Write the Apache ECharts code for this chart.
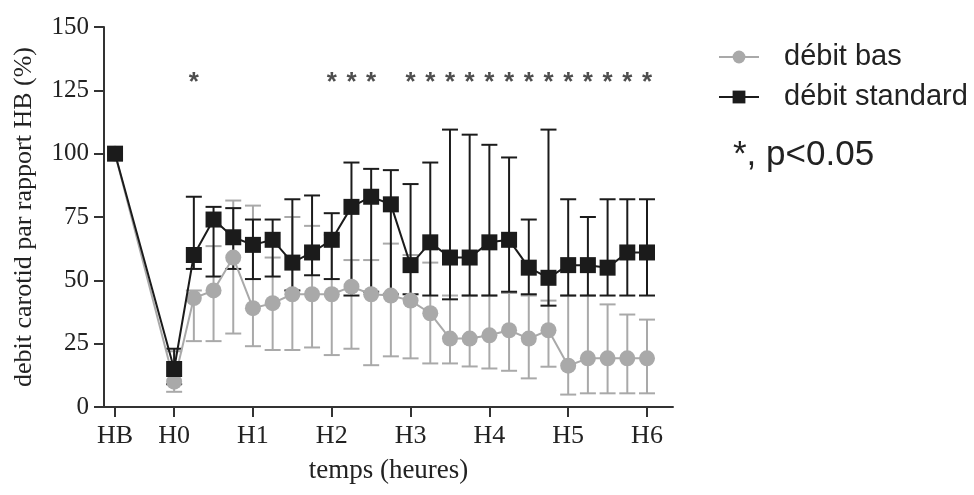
<!DOCTYPE html>
<html>
<head>
<meta charset="utf-8">
<script src="https://cdn.jsdelivr.net/npm/echarts@6/dist/echarts.min.js"></script>
<style>html,body{margin:0;padding:0;background:#fff;}#c{width:974px;height:495px;}</style>
</head>
<body>
<div id="c"></div>
<script>
// time in hours (HB = baseline, placed before H0)
const times = [-0.75,0,0.25,0.5,0.75,1,1.25,1.5,1.75,2,2.25,2.5,2.75,3,3.25,3.5,3.75,4,4.25,4.5,4.75,5,5.25,5.5,5.75,6];
// débit standard
const stdMean = [100,15,60,74,67,64,66,57,61,66,79,83,80,56,65,59,59,65,66,55,51,56,56,55,61,61];
const stdHigh = [null,23,83,79,78.5,74,74,82,83.5,76.5,96.5,94,93.5,88,96.5,109.5,107.5,103.5,98.5,74,109.5,82,75,82,82,82];
const stdLow  = [null,9,54.5,51.5,54.5,50.5,51.5,46,52,50.5,44,45.5,44.5,44.5,44,42.5,44,44,45.5,44.5,40,44,44,44,44,44];
// débit bas
const lowMean = [100,10,43,46,59,39,41,44.5,44.5,44.5,47.5,44.5,44,42,37,27,27,28.3,30.3,27,30.3,16.3,19.2,19.2,19.2,19.2];
const lowHigh = [null,22,46,63.5,81.5,79.5,59,75,71.5,68,58,58,64.5,60,57,44,44,44,45,44,42,44,44,40.5,36.5,34.5];
const lowLow  = [null,6,26,26,29,24,22.5,22.5,23.5,20.5,23,16.5,20,19.2,17.2,17.2,16,15.2,14.3,11.3,15.9,4.9,5.4,5.4,5.4,5.4];
// significance markers (p<0.05)
const sigTimes = [0.25,2,2.25,2.5,3,3.25,3.5,3.75,4,4.25,4.5,4.75,5,5.25,5.5,5.75,6];
const sigLevel = 128;
// x tick labels
const tickValues = [-0.75,0,1,2,3,4,5,6];
const tickLabels = ['HB','H0','H1','H2','H3','H4','H5','H6'];
const yTicks = [0,25,50,75,100,125,150];

const GREY = '#a9a9a9';
const BLACK = '#1b1b1b';
const SERIF = '"Liberation Serif", "DejaVu Serif", serif';
const SANS = '"Liberation Sans", Arial, sans-serif';

function pairs(vals){ return times.map((t,i)=>[t, vals[i]]); }
function errData(lo, hi){
  const out = [];
  times.forEach((t,i)=>{ if(lo[i]!=null && hi[i]!=null) out.push([t, lo[i], hi[i]]); });
  return out;
}
function errSeries(name, lo, hi, color, z){
  return {
    type: 'custom', name: name + '_err', z: z, silent: true,
    data: errData(lo, hi),
    encode: {x: 0, y: [1, 2]},
    renderItem: function(params, api){
      const x = api.value(0);
      const p1 = api.coord([x, api.value(1)]);
      const p2 = api.coord([x, api.value(2)]);
      const hw = 8;
      const st = {stroke: color, lineWidth: 2};
      return {type: 'group', children: [
        {type:'line', shape:{x1:p1[0],y1:p1[1],x2:p2[0],y2:p2[1]}, style: st},
        {type:'line', shape:{x1:p1[0]-hw,y1:p1[1],x2:p1[0]+hw,y2:p1[1]}, style: st},
        {type:'line', shape:{x1:p2[0]-hw,y1:p2[1],x2:p2[0]+hw,y2:p2[1]}, style: st}
      ]};
    }
  };
}

const chart = echarts.init(document.getElementById('c'), null, {renderer: 'canvas'});
chart.setOption({
  animation: false,
  backgroundColor: '#fff',
  grid: {left: 104, right: 301, top: 27, bottom: 88, containLabel: false},
  legend: {
    orient: 'vertical', left: 713, top: 37,
    itemWidth: 40, itemHeight: 16, itemGap: 10,
    data: ['débit bas', 'débit standard'],
    textStyle: {fontFamily: SANS, fontSize: 29, color: '#222', padding: [0,0,0,20], lineHeight: 30}
  },
  xAxis: {
    type: 'value', min: -0.89, max: 6.33,
    name: 'temps (heures)', nameLocation: 'middle', nameGap: 50,
    nameTextStyle: {fontFamily: SERIF, fontSize: 27, color: '#222'},
    axisLine: {show: true, onZero: false, lineStyle: {color: '#333', width: 2}},
    axisTick: {show: true, length: 10, inside: false, customValues: tickValues, lineStyle: {color: '#333', width: 2}},
    axisLabel: {
      customValues: tickValues, margin: 16,
      fontFamily: SERIF, fontSize: 26, color: '#222',
      formatter: function(v){ const i = tickValues.findIndex(t=>Math.abs(t-v)<1e-6); return i>=0 ? tickLabels[i] : ''; }
    },
    splitLine: {show: false}
  },
  yAxis: {
    type: 'value', min: 0, max: 150, interval: 25,
    name: 'debit carotid par rapport HB (%)', nameLocation: 'middle', nameGap: 67,
    nameTextStyle: {fontFamily: SERIF, fontSize: 26, color: '#222'},
    axisLine: {show: true, onZero: false, lineStyle: {color: '#333', width: 2}},
    axisTick: {show: true, length: 10, lineStyle: {color: '#333', width: 2}},
    axisLabel: {margin: 15, fontFamily: SERIF, fontSize: 25, color: '#222',
      formatter: function(v){ return yTicks.indexOf(v) >= 0 ? String(v) : ''; }},
    splitLine: {show: false}
  },
  graphic: [{
    type: 'text', x: 733, y: 155,
    style: {text: '*, p<0.05', font: '35px ' + SANS, fill: '#222', textAlign: 'left', textVerticalAlign: 'middle', verticalAlign: 'middle'}
  }],
  series: [
    errSeries('débit bas', lowLow, lowHigh, GREY, 1),
    errSeries('débit standard', stdLow, stdHigh, BLACK, 2),
    {
      name: 'débit bas', type: 'line', z: 3, data: pairs(lowMean),
      symbol: 'circle', symbolSize: 16,
      itemStyle: {color: GREY}, lineStyle: {color: GREY, width: 2}
    },
    {
      name: 'débit standard', type: 'line', z: 4, data: pairs(stdMean),
      symbol: 'rect', symbolSize: 16,
      itemStyle: {color: BLACK}, lineStyle: {color: BLACK, width: 2}
    },
    {
      name: 'sig', type: 'scatter', z: 5, silent: true,
      data: sigTimes.map(t=>[t, sigLevel]), symbolSize: 0,
      label: {show: true, position: 'inside', formatter: '*', fontFamily: SANS, fontSize: 26, fontWeight: 'bold', color: '#222'}
    }
  ]
});
</script>
</body>
</html>
